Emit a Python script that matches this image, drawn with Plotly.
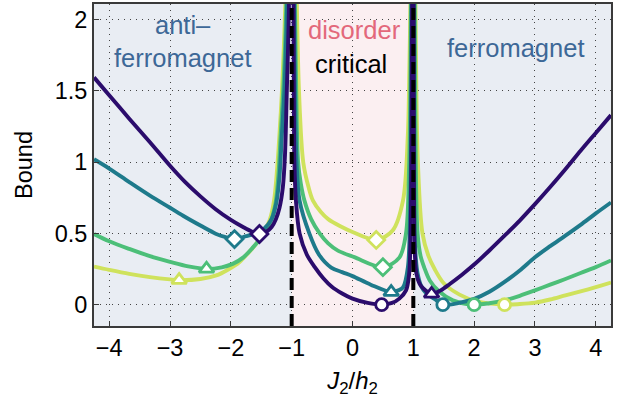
import plotly.graph_objects as go

# ---- data (x = J2/h2, y = Bound); None splits the branches at the singular points
purple_x = [-4.25, -4.0, -3.67, -3.33, -3.0, -2.75, -2.5, -2.25, -2.0, -1.8, -1.65, -1.53, -1.42, -1.33, -1.26, -1.2, -1.146, -1.11, -1.08, -1.06, -1.045, -1.04, None,
            -0.97, -0.965, -0.955, -0.93, -0.87, -0.75, -0.62, -0.48, -0.34, -0.17, 0.0, 0.25, 0.48, 0.65, 0.77, 0.88, 0.93, 0.955, 0.97, 0.98, 0.985, None,
            1.004, 1.008, 1.015, 1.03, 1.05, 1.1, 1.16, 1.3, 1.45, 1.6, 1.8, 2.0, 2.25, 2.5, 2.75, 3.0, 3.25, 3.5, 3.75, 4.0, 4.25]
purple_y = [1.595, 1.47, 1.305, 1.14, 0.975, 0.86, 0.76, 0.67, 0.595, 0.545, 0.512, 0.496, 0.51, 0.545, 0.6, 0.68, 0.82, 1.05, 1.5, 1.8, 2.1, 2.4, None,
            2.4, 1.5, 1.0, 0.73, 0.5, 0.35, 0.263, 0.185, 0.125, 0.078, 0.042, 0.012, 0.0, 0.012, 0.042, 0.1, 0.21, 0.5, 1.19, 2.1, 2.4, None,
            2.4, 1.2, 0.5, 0.32, 0.22, 0.15, 0.115, 0.075, 0.1, 0.145, 0.21, 0.281, 0.38, 0.484, 0.59, 0.705, 0.825, 0.95, 1.08, 1.205, 1.33]

teal_x = [-4.25, -4.0, -3.67, -3.33, -3.0, -2.75, -2.5, -2.25, -2.1, -1.94, -1.75, -1.6, -1.45, -1.33, -1.25, -1.2, -1.16, -1.12, -1.095, -1.075, -1.065, None,
          -0.965, -0.955, -0.945, -0.92, -0.87, -0.71, -0.55, -0.35, -0.17, 0.0, 0.3, 0.636, 0.75, 0.83, 0.91, 0.95, 0.965, 0.975, None,
          1.006, 1.01, 1.015, 1.022, 1.04, 1.07, 1.13, 1.21, 1.38, 1.485, 1.75, 2.0, 2.25, 2.5, 2.75, 3.0, 3.25, 3.5, 3.75, 4.0, 4.25]
teal_y = [1.02, 0.955, 0.86, 0.765, 0.68, 0.615, 0.555, 0.498, 0.475, 0.46, 0.48, 0.5, 0.535, 0.6, 0.72, 0.9, 1.2, 1.5, 1.8, 2.1, 2.4, None,
          2.4, 2.0, 1.5, 1.0, 0.73, 0.5, 0.35, 0.26, 0.228, 0.2, 0.14, 0.088, 0.1, 0.12, 0.26, 0.73, 1.5, 2.4, None,
          2.4, 1.5, 1.0, 0.5, 0.33, 0.22, 0.13, 0.08, 0.03, 0.0, 0.012, 0.04, 0.09, 0.159, 0.24, 0.332, 0.41, 0.484, 0.56, 0.64, 0.717]

green_x = [-4.25, -4.0, -3.67, -3.33, -3.0, -2.7, -2.4, -2.15, -1.97, -1.8, -1.64, -1.5, -1.365, -1.27, -1.22, -1.18, -1.14, -1.11, -1.09, -1.08, None,
           -0.955, -0.945, -0.925, -0.894, -0.85, -0.79, -0.68, -0.54, -0.4, -0.24, 0.03, 0.5, 0.77, 0.88, 0.93, 0.95, 0.96, 0.965, None,
           1.022, 1.028, 1.04, 1.07, 1.12, 1.18, 1.27, 1.43, 1.65, 2.0, 2.25, 2.5, 2.75, 3.0, 3.25, 3.5, 3.75, 4.0, 4.25]
green_y = [0.496, 0.445, 0.391, 0.34, 0.30, 0.268, 0.251, 0.262, 0.286, 0.33, 0.40, 0.47, 0.565, 0.7, 0.9, 1.2, 1.5, 1.8, 2.1, 2.4, None,
           2.4, 2.1, 1.5, 1.0, 0.85, 0.73, 0.6, 0.5, 0.43, 0.379, 0.333, 0.263, 0.33, 0.5, 0.96, 1.5, 2.1, 2.4, None,
           2.4, 1.8, 1.0, 0.5, 0.34, 0.26, 0.17, 0.09, 0.03, 0.0, 0.01, 0.03, 0.062, 0.1, 0.14, 0.18, 0.222, 0.263, 0.31]

yellow_x = [-4.25, -4.0, -3.67, -3.33, -3.0, -2.85, -2.5, -2.24, -2.05, -1.86, -1.72, -1.585, -1.45, -1.365, -1.29, -1.24, -1.2, -1.16, -1.13, -1.105, -1.09, None,
            -0.93, -0.915, -0.88, -0.81, -0.72, -0.65, -0.52, -0.40, -0.2, 0.0, 0.39, 0.66, 0.83, 0.91, 0.935, 0.955, 0.96, None,
            1.03, 1.034, 1.05, 1.075, 1.15, 1.25, 1.35, 1.5, 1.76, 2.03, 2.5, 2.75, 3.0, 3.25, 3.5, 3.75, 4.0, 4.25]
yellow_y = [0.267, 0.244, 0.216, 0.193, 0.177, 0.172, 0.18, 0.205, 0.245, 0.298, 0.36, 0.426, 0.52, 0.589, 0.73, 0.95, 1.2, 1.5, 1.8, 2.1, 2.4, None,
            2.4, 2.1, 1.5, 1.0, 0.82, 0.73, 0.65, 0.60, 0.55, 0.51, 0.454, 0.52, 0.73, 1.19, 1.66, 2.2, 2.4, None,
            2.4, 2.2, 1.5, 1.0, 0.5, 0.34, 0.25, 0.15, 0.07, 0.025, 0.0, 0.004, 0.014, 0.036, 0.065, 0.093, 0.123, 0.155]

# marked minima: (x, y) for each series
purple_diamond, purple_circle, purple_triangle = (-1.53, 0.496), (0.48, 0.0), (1.30, 0.075)
teal_diamond, teal_triangle, teal_circle = (-1.94, 0.46), (0.636, 0.088), (1.485, 0.0)
green_triangle, green_diamond, green_circle = (-2.40, 0.251), (0.50, 0.263), (2.0, 0.0)
yellow_triangle, yellow_diamond, yellow_circle = (-2.85, 0.172), (0.39, 0.454), (2.5, 0.0)

phase_boundaries = [-1, 1]
x_range = [-4.25, 4.25]
y_range = [-0.15, 2.11]
x_ticks = [-4, -3, -2, -1, 0, 1, 2, 3, 4]
y_ticks = [0, 0.5, 1, 1.5, 2]
y_tick_text = ["0", "0.5", "1", "1.5", "2"]

# ---- styling
C_PURPLE = "#2b0c6c"
C_TEAL = "#1e7a8b"
C_GREEN = "#4cbf78"
C_YELLOW = "#cfe25c"
BG_ORDER = "#e9edf3"
BG_DISORDER = "#fbeff1"
FONT = "Liberation Sans, Arial, sans-serif"

fig = go.Figure()

series = [
    (purple_x, purple_y, C_PURPLE),
    (teal_x, teal_y, C_TEAL),
    (green_x, green_y, C_GREEN),
    (yellow_x, yellow_y, C_YELLOW),
]
for xs, ys, c in reversed(series):
    fig.add_trace(go.Scatter(x=xs, y=ys, mode="lines", line=dict(color=c, width=3.9, shape="spline", smoothing=0.9),
                             hoverinfo="skip", showlegend=False, connectgaps=False))

markers = [
    (purple_diamond, "diamond", C_PURPLE), (purple_circle, "circle", C_PURPLE), (purple_triangle, "triangle-up", C_PURPLE),
    (teal_diamond, "diamond", C_TEAL), (teal_triangle, "triangle-up", C_TEAL), (teal_circle, "circle", C_TEAL),
    (green_triangle, "triangle-up", C_GREEN), (green_diamond, "diamond", C_GREEN), (green_circle, "circle", C_GREEN),
    (yellow_triangle, "triangle-up", C_YELLOW), (yellow_diamond, "diamond", C_YELLOW), (yellow_circle, "circle", C_YELLOW),
]
sizes = {"diamond": 13, "circle": 12, "triangle-up": 13}
for (mx, my), sym, c in markers:
    fig.add_trace(go.Scatter(x=[mx], y=[my], mode="markers", cliponaxis=False,
                             marker=dict(symbol=sym, size=sizes[sym], color="white", line=dict(color=c, width=2.8)),
                             hoverinfo="skip", showlegend=False))

shapes = [
    dict(type="rect", xref="x", yref="paper", x0=phase_boundaries[0], x1=phase_boundaries[1], y0=0, y1=1,
         fillcolor=BG_DISORDER, line=dict(width=0), layer="below"),
]
for b in phase_boundaries:
    shapes.append(dict(type="line", xref="x", yref="paper", x0=b, x1=b, y0=0, y1=1,
                       line=dict(color="black", width=4, dash="12px,6px"), layer="above"))

label_blue = "#3d6897"
LBL = 25.5
annotations = [
    dict(x=-2.78, y=1.96, text="anti\u2013", font=dict(size=LBL, color=label_blue, family=FONT)),
    dict(x=-2.78, y=1.73, text="ferromagnet", font=dict(size=LBL, color=label_blue, family=FONT)),
    dict(x=0.03, y=1.93, text="disorder", font=dict(size=LBL, color="#e3687b", family=FONT)),
    dict(x=-0.02, y=1.69, text="critical", font=dict(size=LBL, color="black", family=FONT)),
    dict(x=2.68, y=1.80, text="ferromagnet", font=dict(size=LBL, color=label_blue, family=FONT)),
]
for a in annotations:
    a.update(xref="x", yref="y", showarrow=False, xanchor="center", yanchor="middle")

axis_common = dict(showline=True, linecolor="#3a3a3a", linewidth=1.8, mirror=True,
                   ticks="inside", ticklen=5, tickwidth=1.2, tickcolor="#3a3a3a",
                   showgrid=True, gridcolor="#444444", gridwidth=1.2, griddash="1px,5px",
                   zeroline=False, tickfont=dict(size=23.5, family=FONT, color="black"))

fig.update_layout(
    width=624, height=407,
    margin=dict(l=94, r=13, t=2, b=81),
    paper_bgcolor="white", plot_bgcolor=BG_ORDER,
    shapes=shapes, annotations=annotations,
    font=dict(family=FONT, color="black"),
    xaxis=dict(range=x_range, tickvals=x_ticks, title=dict(text="<i>J</i><sub>2</sub>/<i>h</i><sub>2</sub>",
               font=dict(size=24, family=FONT), standoff=12), **axis_common),
    yaxis=dict(range=y_range, tickvals=y_ticks, ticktext=y_tick_text,
               title=dict(text="Bound", font=dict(size=23.5, family=FONT), standoff=16), **axis_common),
)

fig.write_html("out.html", config={"displayModeBar": False},
               post_script="document.body.style.margin='0px';document.body.style.padding='0px';")
